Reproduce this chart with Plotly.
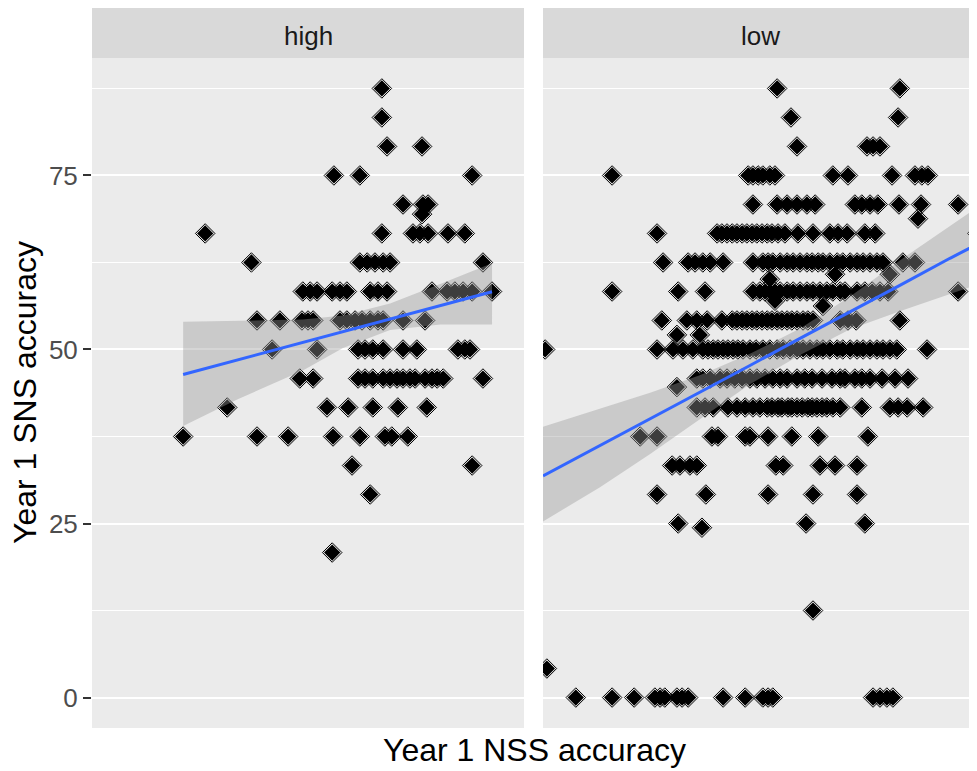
import plotly.graph_objects as go

# ---------------- data ----------------
# Year 1 SNS accuracy levels (y) and Year 1 NSS accuracy values (x) of the points at each level
high_sns_levels = [87.5, 83.33, 79.17, 75.0, 70.83, 69.44, 66.67, 62.5, 58.33, 54.17,
                   50.0, 45.83, 41.67, 37.5, 33.33, 29.17, 20.83]
high_nss_at_level = [
    [67.1],
    [67.1],
    [68.3, 76.4],
    [56.0, 62.0, 88.0],
    [72.0, 76.6, 77.8],
    [76.4],
    [26.2, 67.1, 74.3, 75.9, 77.8, 82.4, 86.3],
    [36.9, 62.0, 63.7, 65.5, 67.4, 69.0, 90.5],
    [48.8, 50.5, 52.1, 55.6, 57.4, 59.0, 64.4, 66.2, 68.3, 78.7, 82.2, 84.0, 85.9, 88.0, 92.6],
    [38.2, 43.5, 48.6, 50.0, 51.2, 57.4, 59.0, 60.9, 62.5, 64.4, 66.2, 67.4, 72.0, 77.1],
    [41.7, 52.1, 61.6, 63.2, 65.0, 67.4, 72.0, 75.2, 84.7, 86.3, 87.5],
    [48.1, 51.2, 61.6, 63.2, 65.0, 67.4, 69.0, 70.6, 72.0, 73.6, 74.8, 77.1, 78.7, 79.9, 81.3, 90.5],
    [31.3, 54.4, 59.3, 65.0, 70.8, 77.5],
    [21.1, 38.2, 45.4, 55.8, 62.0, 67.8, 69.4, 73.1],
    [60.2, 88.0],
    [64.4],
    [55.6],
]

low_sns_levels = [87.5, 83.33, 79.17, 75.0, 70.83, 68.8, 66.67, 62.5, 60.8, 60.1, 58.33, 57.0,
                  56.25, 54.17, 52.1, 50.0, 45.83, 44.6, 41.67, 37.5, 33.33, 29.17, 25.0, 24.4,
                  12.5, 4.17, 0.0]
low_nss_at_level = [
    [54.2, 82.6],
    [57.4, 82.2],
    [58.8, 75.0, 76.4, 78.0],
    [16.0, 47.5, 48.6, 49.8, 50.9, 52.5, 53.7, 67.1, 70.6, 80.8, 86.1, 87.7, 89.1],
    [48.6, 54.2, 56.5, 58.8, 61.1, 63.0, 72.2, 73.8, 75.7, 77.5, 82.4, 87.5, 96.1],
    [86.8],
    [26.4, 40.3, 41.4, 42.6, 43.8, 44.9, 46.1, 47.2, 48.4, 49.5, 50.7, 51.9, 53.0, 54.4, 56.0,
     59.0, 62.5, 66.4, 68.3, 70.4, 74.5, 76.9, 100.5],
    [27.8, 33.6, 35.2, 37.0, 38.7, 41.7, 48.6, 50.9, 52.1, 53.2, 54.9, 56.5, 57.9, 59.5, 61.1,
     62.3, 63.7, 64.8, 66.4, 68.1, 69.4, 71.1, 72.7, 74.1, 75.7, 77.3, 78.7, 83.3, 86.1],
    [67.6, 80.3],
    [52.5],
    [16.0, 31.3, 37.5, 48.6, 50.2, 51.4, 52.5, 53.7, 54.9, 56.5, 57.9, 59.5, 61.1, 62.5, 64.1,
     65.7, 67.1, 68.8, 69.9, 72.7, 74.5, 76.2, 78.0, 79.9, 96.1],
    [53.7],
    [64.8],
    [27.5, 33.3, 35.6, 38.0, 41.4, 43.8, 44.9, 46.1, 47.2, 48.4, 49.5, 50.7, 51.9, 53.0, 54.2,
     55.3, 56.5, 57.6, 58.8, 60.2, 61.3, 62.5, 68.8, 70.6, 72.5, 82.6],
    [31.0, 36.3],
    [0.5, 26.4, 30.1, 32.4, 34.7, 37.0, 38.2, 39.4, 40.5, 41.7, 42.8, 44.0, 45.1, 46.3, 47.9,
     49.3, 50.9, 52.5, 54.2, 55.6, 57.2, 58.8, 60.2, 61.8, 63.4, 64.8, 66.4, 68.1, 69.4, 71.1,
     72.7, 74.1, 75.7, 77.3, 78.7, 80.3, 81.9, 88.9],
    [35.6, 37.0, 38.7, 41.0, 42.6, 44.4, 46.1, 47.9, 49.5, 51.4, 53.2, 54.9, 56.5, 58.8, 60.6,
     62.3, 64.6, 66.9, 68.8, 69.9, 72.2, 73.8, 75.7, 78.5, 81.5, 84.5],
    [31.0],
    [35.6, 37.5, 39.4, 42.8, 44.9, 46.8, 48.6, 50.2, 51.9, 53.0, 54.4, 55.3, 56.7, 57.6, 58.8,
     60.0, 61.3, 62.3, 63.4, 64.6, 65.7, 67.1, 68.8, 73.8, 80.3, 82.2, 84.3, 88.0],
    [22.5, 26.4, 39.1, 40.5, 46.8, 47.9, 52.1, 57.6, 63.7, 75.2],
    [29.9, 31.7, 34.0, 35.6, 53.9, 55.6, 64.1, 67.6, 72.7],
    [26.4, 37.7, 52.1, 62.5, 72.7],
    [31.3, 60.9, 74.5],
    [36.8],
    [62.5],
    [0.9],
    [7.6, 16.0, 21.1, 25.9, 27.1, 28.2, 31.0, 32.2, 33.6, 41.7, 46.8, 50.9, 52.1, 53.2, 76.4,
     78.0, 79.6, 81.0],
]

# linear smoother (geom_smooth, method = "lm")
high_fit_x = [21.1, 33.6, 48.8, 58.1, 69.0, 80.6, 92.6]
high_fit_y = [46.4, 48.5, 51.0, 52.6, 54.4, 56.3, 58.3]
high_fit_lo = [39.0, 42.8, 47.0, 50.2, 52.8, 53.6, 53.6]
high_fit_hi = [54.0, 54.1, 54.3, 54.9, 56.6, 59.4, 62.4]

low_fit_x = [0.0, 13.2, 24.8, 36.3, 47.9, 59.5, 71.1, 82.6, 94.2, 100.5]
low_fit_y = [31.85, 36.2, 40.1, 43.9, 47.7, 51.6, 55.4, 59.2, 63.1, 65.1]
low_fit_lo = [25.3, 30.2, 35.0, 40.0, 45.0, 49.2, 52.9, 55.5, 58.0, 59.3]
low_fit_hi = [38.9, 41.5, 43.8, 46.3, 49.4, 53.0, 57.6, 62.8, 67.8, 70.4]

panel_labels = ["high", "low"]
y_ticks = [0, 25, 50, 75]

# ---------------- figure ----------------
FONT = "Liberation Sans, Arial, sans-serif"
OFF = 8                       # page body margin of the html page
W, H = 977 - OFF, 771 - OFF
P_LEFT, P_RIGHT, P_TOP, P_BOTTOM = 92, 977, 58, 728   # panel area in page pixels
ML, MR, MT, MB = P_LEFT - OFF, 977 - P_RIGHT, P_TOP - OFF, 771 - P_BOTTOM
PW = P_RIGHT - P_LEFT
PH = P_BOTTOM - P_TOP


def px2paper_x(px):
    return (px - P_LEFT) / PW


def py2paper_y(py):
    return (P_BOTTOM - py) / PH


dom1 = [0.0, px2paper_x(524)]
dom2 = [px2paper_x(543), 1.0]


def flatten(levels, xs_at):
    xs, ys = [], []
    for lev, xs_l in zip(levels, xs_at):
        for v in xs_l:
            xs.append(v)
            ys.append(lev)
    return xs, ys


fig = go.Figure()

panels = [
    ("x", "y", high_sns_levels, high_nss_at_level, high_fit_x, high_fit_y, high_fit_lo, high_fit_hi),
    ("x2", "y2", low_sns_levels, low_nss_at_level, low_fit_x, low_fit_y, low_fit_lo, low_fit_hi),
]

for xa, ya, levels, xs_at, fx, fy, flo, fhi in panels:
    px, py = flatten(levels, xs_at)
    fig.add_trace(go.Scatter(
        x=px, y=py, xaxis=xa, yaxis=ya, mode="markers", showlegend=False, hoverinfo="skip",
        marker=dict(symbol="diamond-open", size=15, color="black", line=dict(width=1, color="black")),
    ))
    fig.add_trace(go.Scatter(
        x=px, y=py, xaxis=xa, yaxis=ya, mode="markers", showlegend=False,
        marker=dict(symbol="diamond", size=12.5, color="black", line=dict(width=0)),
    ))
    fig.add_trace(go.Scatter(
        x=list(fx) + list(fx)[::-1], y=list(fhi) + list(flo)[::-1], xaxis=xa, yaxis=ya,
        mode="lines", fill="toself", fillcolor="rgba(153,153,153,0.4)",
        line=dict(width=0, color="rgba(0,0,0,0)"), showlegend=False, hoverinfo="skip",
    ))
    fig.add_trace(go.Scatter(
        x=fx, y=fy, xaxis=xa, yaxis=ya, mode="lines", showlegend=False,
        line=dict(color="#3366FF", width=3),
    ))

yrange = [-4.375, 91.875]
xcommon = dict(showgrid=False, zeroline=False, showticklabels=False, ticks="", showline=False)
grid = dict(range=yrange, tickmode="array", tickvals=y_ticks, zeroline=False, showline=False,
            gridcolor="white", gridwidth=2,
            minor=dict(tickmode="linear", tick0=0, dtick=12.5, showgrid=True, gridcolor="white",
                       gridwidth=1.3, ticks=""))

fig.update_layout(
    width=W, height=H,
    margin=dict(l=ML, r=MR, t=MT, b=MB, pad=0),
    paper_bgcolor="white", plot_bgcolor="#EBEBEB",
    font=dict(family=FONT, color="black"),
    xaxis=dict(domain=dom1, range=[0, 100], anchor="y", **xcommon),
    xaxis2=dict(domain=dom2, range=[0, 100 * (P_RIGHT - 543) / (524 - P_LEFT)], anchor="y2", **xcommon),
    yaxis=dict(anchor="x", ticks="outside", ticklen=8, tickwidth=2, tickcolor="#333333",
               tickfont=dict(size=26, color="#4D4D4D", family=FONT), showticklabels=True, **grid),
    yaxis2=dict(anchor="x2", showticklabels=False, ticks="", **grid),
    showlegend=False,
)

shapes = []
annotations = []
for dom, lab in zip([dom1, dom2], panel_labels):
    shapes.append(dict(type="rect", xref="paper", yref="paper", x0=dom[0], x1=dom[1],
                       y0=1, y1=py2paper_y(7), fillcolor="#D9D9D9", line=dict(width=0), layer="below"))
    annotations.append(dict(text=lab, xref="paper", yref="paper", x=(dom[0] + dom[1]) / 2,
                            y=py2paper_y(36), xanchor="center", yanchor="middle", showarrow=False,
                            font=dict(size=26, color="#1A1A1A", family=FONT)))

annotations.append(dict(text="Year 1 NSS accuracy", xref="paper", yref="paper",
                        x=px2paper_x(534.5), y=py2paper_y(750), xanchor="center",
                        yanchor="middle", showarrow=False, font=dict(size=32, color="black", family=FONT)))
annotations.append(dict(text="Year 1 SNS accuracy", xref="paper", yref="paper",
                        x=px2paper_x(25), y=py2paper_y(393), xanchor="center", yanchor="middle",
                        textangle=-90, showarrow=False, font=dict(size=32, color="black", family=FONT)))

fig.update_layout(shapes=shapes, annotations=annotations)

fig.write_html("out.html")
